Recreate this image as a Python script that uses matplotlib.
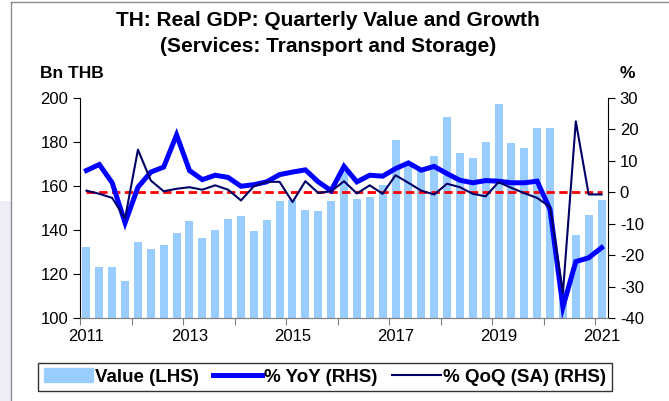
import matplotlib.pyplot as plt
from matplotlib.patches import Patch, Rectangle
from matplotlib.lines import Line2D
import numpy as np

plt.rcParams['font.family'] = ['Liberation Sans', 'DejaVu Sans']
plt.rcParams['axes.unicode_minus'] = False

# quarters 2011Q1 .. 2021Q1
years = ["2011", "2013", "2015", "2017", "2019", "2021"]

value = [132.3, 123.3, 123.3, 116.9, 134.6, 131.4, 133.1, 138.7,
         144.0, 136.4, 140.2, 145.2, 146.2, 139.4, 144.4, 153.2,
         153.5, 149.3, 148.7, 153.2, 166.5, 153.9, 155.0, 160.4,
         180.7, 169.0, 167.0, 173.6, 191.1, 174.9, 172.5, 179.9,
         197.3, 179.3, 177.2, 186.1, 186.4, 113.0, 137.8, 147.0,
         153.5]

yoy = [6.9, 8.8, 3.0, -9.7, 1.6, 6.4, 8.0, 18.2,
       6.9, 4.0, 5.4, 4.7, 1.9, 2.4, 3.3, 5.6,
       6.4, 7.1, 3.3, 0.5, 8.2, 3.3, 5.4, 5.1,
       7.5, 9.3, 7.0, 8.2, 5.9, 3.8, 3.0, 3.7,
       3.5, 3.0, 3.0, 3.5, -5.5, -36.4, -22.0, -20.8,
       -17.6]

qoq = [0.5, -0.5, -1.8, -8.3, 13.5, 3.7, 0.3, 1.1,
       1.6, 0.8, 2.2, 0.8, -2.6, 1.9, 3.3, 3.3,
       -3.1, 3.5, -0.2, 0.3, 3.5, -0.4, 2.2, -0.5,
       5.4, 3.0, 0.5, -0.7, 2.7, 1.6, -0.5, -1.3,
       3.2, 1.4, -0.3, -1.8, -4.7, -31.9, 22.5, -0.7,
       -0.7]

x = np.arange(len(value))

fig = plt.figure(figsize=(6.69, 4.01), dpi=100)
ax = fig.add_axes([80/669, 1-318.3/401, 528/669, 220.6/401])
ax2 = ax.twinx()

ax.bar(x, value, width=0.62, color='#99CCFF', zorder=1)
ax.set_ylim(100, 200)
ax.set_yticks(range(100, 201, 20))
ax.set_xlim(-0.5, len(value) - 0.5)
ax.set_xticks(np.arange(-0.5, len(value), 4))
ax.set_xticklabels([])
ax.set_xticks(np.arange(0, len(value), 8), minor=True)
ax.set_xticklabels(years, minor=True)
ax.tick_params(axis='x', which='major', length=5, direction='out', color='#808080')
ax.tick_params(axis='x', which='minor', length=0, pad=8, labelsize=12)
ax.tick_params(axis='y', length=5, direction='out', labelsize=12)

ax2.plot(x, np.zeros(len(x)), color='#FF0000', lw=2, dashes=(3, 1.6))
ax2.plot(x, yoy, color='#0000FF', lw=3.6, solid_joinstyle='miter')
ax2.plot(x, qoq, color='#000066', lw=1.5)
ax2.set_ylim(-40, 30)
ax2.set_yticks(range(-40, 31, 10))
ax2.tick_params(axis='y', length=5, direction='out', labelsize=12)

for a in (ax, ax2):
    a.spines['top'].set_visible(False)
    a.spines['bottom'].set_color('#808080')
ax.spines['right'].set_visible(False)
ax2.spines['left'].set_visible(False)

fig.text(0.49, 1-21/401, "TH: Real GDP: Quarterly Value and Growth",
         ha='center', va='center', fontsize=15, fontweight='bold')
fig.text(0.49, 1-46/401, "(Services: Transport and Storage)",
         ha='center', va='center', fontsize=15, fontweight='bold')
fig.text(40/669, 1-73/401, "Bn THB", ha='left', va='center',
         fontsize=12.5, fontweight='bold')
fig.text(627/669, 1-73/401, "%", ha='center', va='center',
         fontsize=12.5, fontweight='bold')

handles = [Patch(color='#99CCFF'),
           Line2D([], [], color='#0000FF', lw=3.6),
           Line2D([], [], color='#000066', lw=1.5)]
labels = ["Value (LHS)", "% YoY (RHS)", "% QoQ (SA) (RHS)"]
leg = fig.legend(handles, labels, loc='center', ncol=3,
                 bbox_to_anchor=(325/669, 1-377/401),
                 frameon=True, fancybox=False, edgecolor='black',
                 prop={'weight': 'bold', 'size': 13.5},
                 handlelength=2.6, handletextpad=0.1, columnspacing=0.8,
                 borderpad=0.3)
leg.get_frame().set_linewidth(1.0)

# outer frame of the chart object
fig.add_artist(Rectangle((0, 0), 11/669, 0.5, transform=fig.transFigure,
                         color='#EEEDF6', lw=0, zorder=-1))
fig.add_artist(Line2D([11/669, 11/669], [0, 1-1.5/401], transform=fig.transFigure,
                      color='#8C8C8C', lw=1))
fig.add_artist(Line2D([11/669, 1], [1-1.5/401, 1-1.5/401], transform=fig.transFigure,
                      color='#8C8C8C', lw=1))

fig.savefig('out.png', dpi=100)
